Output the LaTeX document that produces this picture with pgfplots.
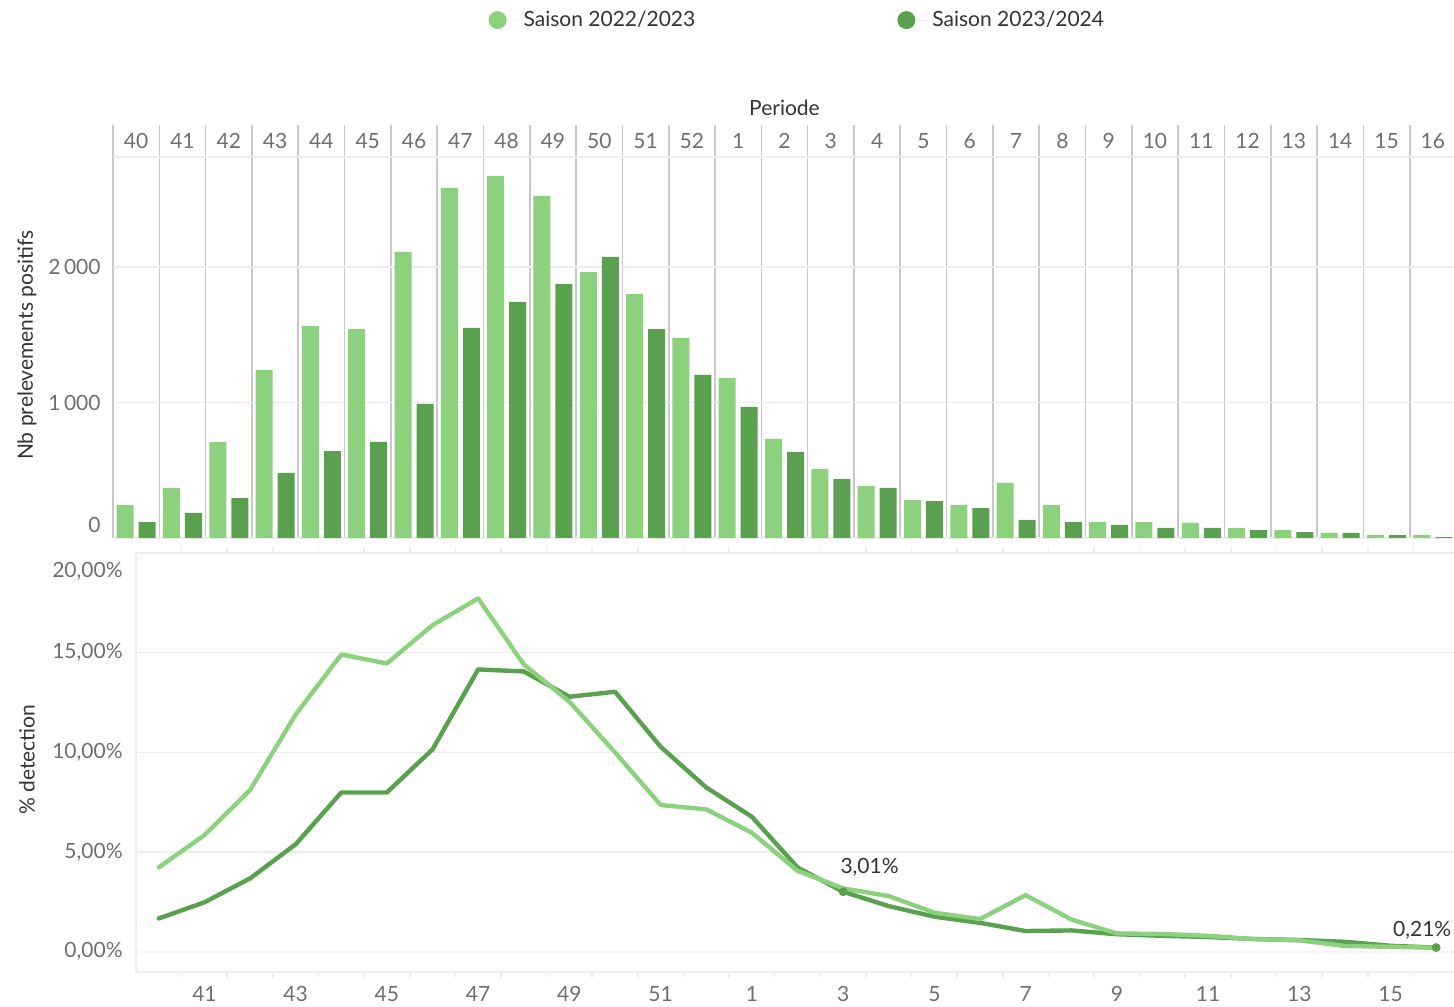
\documentclass[border=0pt]{standalone}
\usepackage{pgfplots}
\pgfplotsset{compat=1.18}
\usepackage{pgfplotstable}
\usepackage{fontspec}
\setmainfont{Lato}
\definecolor{lightg}{HTML}{8CD17D}
\definecolor{darkg}{HTML}{59A14F}
\definecolor{tickgray}{HTML}{6E6E6E}
\definecolor{titlegray}{HTML}{333333}
\definecolor{sepgray}{HTML}{C8C8C8}
\definecolor{gridgray}{HTML}{EDEDED}
\newcommand{\chartfont}{\fontsize{10.5}{12}\selectfont}
\newcommand{\zeropct}{0,00\%}
\newcommand{\twentypct}{\raisebox{-9pt}[\height][\depth]{20,00\%}}
\newcommand{\zerotop}{\raisebox{6.5pt}[\height][\depth]{0}}
\pgfplotsset{
  lgdot/.style={legend image code/.code={\fill[#1] (4.5pt,0pt) circle (4.5pt); \path (0pt,0pt) -- (15.5pt,0pt);}},
}
\pgfplotstableread{
i wk a b
0 40 243 118
1 41 369 185
2 42 709 295
3 43 1240 480
4 44 1565 642
5 45 1542 709
6 46 2111 989
7 47 2583 1550
8 48 2672 1742
9 49 2524 1875
10 50 1963 2074
11 51 1801 1542
12 52 1476 1203
13 1 1181 967
14 2 731 635
15 3 509 435
16 4 384 369
17 5 280 273
18 6 243 221
19 7 406 133
20 8 243 118
21 9 118 96
22 10 118 74
23 11 111 74
24 12 74 59
25 13 59 44
26 14 37 37
27 15 22 22
28 16 22 7
}\bars
\pgfplotstableread{
i a b
0 4.23 1.67
1 5.85 2.48
2 8.11 3.68
3 11.9 5.39
4 14.91 7.99
5 14.46 7.99
6 16.38 10.15
7 17.72 14.16
8 14.41 14.06
9 12.54 12.79
10 10.0 13.04
11 7.36 10.28
12 7.14 8.24
13 5.97 6.77
14 4.06 4.23
15 3.18 3.01
16 2.79 2.29
17 1.96 1.76
18 1.64 1.45
19 2.84 1.04
20 1.62 1.07
21 0.92 0.88
22 0.89 0.80
23 0.80 0.74
24 0.64 0.64
25 0.57 0.59
26 0.29 0.50
27 0.25 0.30
28 0.20 0.21
}\rates
\begin{document}
\chartfont
\begin{tikzpicture}
\useasboundingbox (0,0) rectangle (727pt,503pt);
% ---------- top panel: bars ----------
\begin{axis}[
  at={(56.5pt,234pt)}, anchor=south west,
  scale only axis, width=671.5pt, height=206.5pt,
  xmin=-0.5, xmax=28.5, ymin=0, ymax=3048,
  axis line style={draw=none},
  xtick={0,...,28},
  xticklabels={40,41,42,43,44,45,46,47,48,49,50,51,52,1,2,3,4,5,6,7,8,9,10,11,12,13,14,15,16},
  xticklabel pos=upper,
  xticklabel style={anchor=center, yshift=-8pt, text=tickgray, font=\chartfont},
  major tick length=0pt, minor tick length=0pt,
  minor xtick={-0.5,0.5,...,28.5},
  xminorgrids, minor x grid style={color=sepgray, line width=0.8pt},
  ytick={0,1000,2000},
  yticklabels={\zerotop,1\,000,2\,000},
  yticklabel style={text=tickgray, font=\chartfont, xshift=-2.5pt},
  ymajorgrids, major y grid style={color=gridgray, line width=0.8pt},
  extra y ticks={0,2812}, extra y tick labels={},
  extra y tick style={grid style={color=sepgray, line width=0.8pt}},
  xlabel={Periode},
  xlabel style={at={(axis description cs:0.5,1)}, anchor=center, yshift=8.5pt, text=titlegray, font=\chartfont},
  ylabel={Nb prelevements positifs},
  ylabel style={at={(axis description cs:-0.064,0.467)}, anchor=center, text=titlegray, font=\chartfont},
  legend style={at={(0.5103,1.254)}, anchor=center, draw=none, fill=none,
    legend columns=2, font=\chartfont, text=titlegray,
    /tikz/every even column/.append style={column sep=99pt}},
  legend cell align=left,
]
\addplot[ybar, bar width=8.5pt, bar shift=-5.5pt, fill=lightg, draw=none, lgdot=lightg] table[x=i, y=a] {\bars};
\addlegendentry{Saison 2022/2023}
\addplot[ybar, bar width=8.5pt, bar shift=5.5pt, fill=darkg, draw=none, lgdot=darkg] table[x=i, y=b] {\bars};
\addlegendentry{Saison 2023/2024}
\end{axis}
% ---------- bottom panel: lines ----------
\begin{axis}[
  at={(68pt,17.15pt)}, anchor=south west,
  scale only axis, width=661.5pt, height=209.35pt,
  xmin=-0.5, xmax=28.5, ymin=-1, ymax=20,
  axis line style={color=gridgray, line width=0.8pt},
  xtick={1,3,...,27},
  xticklabels={41,43,45,47,49,51,1,3,5,7,9,11,13,15},
  xticklabel style={text=tickgray, font=\chartfont, yshift=-3.5pt},
  minor xtick={0.5,1.5,...,27.5},
  tick align=outside, major tick length=0pt, minor tick length=3pt,
  minor tick style={color=gridgray, line width=0.8pt},
  ytick={5,10,15,20},
  yticklabels={{5,00\%},{10,00\%},{15,00\%},\twentypct},
  yticklabel style={text=tickgray, font=\chartfont, xshift=-3pt},
  ymajorgrids, major y grid style={color=gridgray, line width=0.8pt},
  extra y ticks={0}, extra y tick labels={\zeropct},
  extra y tick style={grid style={color=black!40, dash pattern=on 1.2pt off 1.2pt, line width=0.6pt}},
  ylabel={\% detection},
  ylabel style={at={(axis description cs:-0.0824,0.506)}, anchor=center, text=titlegray, font=\chartfont},
]
\addplot[darkg, line width=2.2pt, line join=round, line cap=round] table[x=i, y=b] {\rates};
\addplot[lightg, line width=2.2pt, line join=round, line cap=round] table[x=i, y=a] {\rates};
\addplot[only marks, mark=*, mark size=2pt, darkg,
  nodes near coords, point meta=explicit symbolic,
  nodes near coords style={anchor=south west, inner sep=0pt, xshift=-1.5pt, yshift=7.5pt, text=titlegray, font=\chartfont}]
  coordinates {(15,3.01) [3,01\%]};
\addplot[only marks, mark=*, mark size=2pt, darkg,
  nodes near coords, point meta=explicit symbolic,
  nodes near coords style={anchor=south, inner sep=0pt, xshift=-7pt, yshift=3.75pt, text=titlegray, font=\chartfont}]
  coordinates {(28,0.21) [0,21\%]};
\end{axis}
\end{tikzpicture}
\end{document}
